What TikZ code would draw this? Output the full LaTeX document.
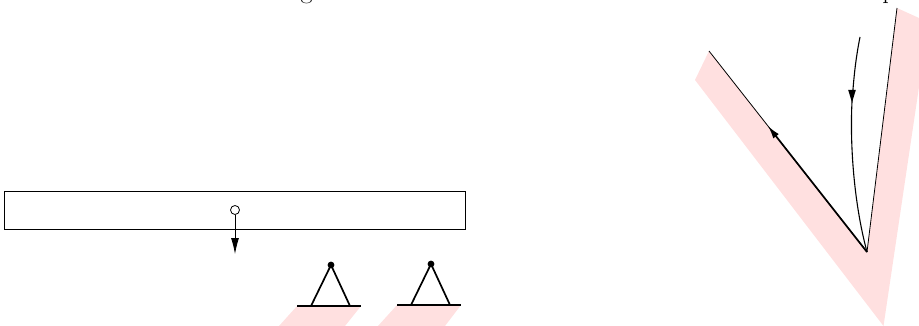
\documentclass[tikz,border=0pt]{standalone}
\usetikzlibrary{arrows.meta}
\definecolor{pk}{RGB}{255,224,224}
\tikzset{
  fillzone/.style={fill=pk,draw=none},
  thinline/.style={line width=0.8pt,black},
  midline/.style={line width=1.1pt,black},
  thickline/.style={line width=1.7pt,black},
  tip/.style={-{Latex[length=16pt,width=8pt]}},
  smalltip/.style={-{Latex[length=13pt,width=7pt]}},
  cuttext/.style={inner sep=0pt,anchor=base,font=\fontsize{26}{28}\selectfont},
}
\begin{document}
\begin{tikzpicture}[x=1pt,y=-1pt]
\useasboundingbox (0,0) rectangle (919,326);
\clip (0,0) rectangle (919,326);
\node[cuttext] (gtext) at (306.5,-1.5) {g};
\node[cuttext] (ptext) at (889,-1.5) {p};
% pink zones
\fill[fillzone] (709,51) -- (695,80) -- (883.5,326) -- (919,87) -- (919,18) -- (897,8) -- (867,252) -- cycle;
\fill[fillzone] (297,306) -- (361,306) -- (345,326) -- (279,326) -- cycle;
\fill[fillzone] (397,305) -- (461,305) -- (445,326) -- (378,326) -- cycle;
% rail
\node[draw,thinline,minimum width=461pt,minimum height=38pt,inner sep=0pt,outer sep=0pt,anchor=center] (rail) at (234.5,210) {};
\node[circle,draw,thinline,fill=white,minimum size=9pt,inner sep=0pt] (pivot) at (235,210) {};
\coordinate (pivotend) at (235,254);
\draw[thinline,tip] (pivot) -- (pivotend);
% supports
\coordinate (a1) at (331,265); \coordinate (b1) at (311,306); \coordinate (c1) at (350,306);
\coordinate (l1) at (297,306); \coordinate (r1) at (361,306);
\draw[thickline,line join=round] (b1) -- (a1) -- (c1) -- cycle;
\draw[thickline] (l1) -- (r1);
\fill (a1) circle (3.4pt);
\coordinate (a2) at (431,264); \coordinate (b2) at (411,305); \coordinate (c2) at (450,305);
\coordinate (l2) at (397,305); \coordinate (r2) at (461,305);
\draw[thickline,line join=round] (b2) -- (a2) -- (c2) -- cycle;
\draw[thickline] (l2) -- (r2);
\fill (a2) circle (3.4pt);
% angle
\coordinate (v) at (867,252); \coordinate (e1) at (709,51); \coordinate (e2) at (897,8);
\coordinate (m) at (768,126); \coordinate (s) at (860,37); \coordinate (h) at (852,102);
\draw[thinline] (v) -- (e1);
\draw[thinline] (v) -- (e2);
\draw[thickline,smalltip] (v) -- (m);
\draw[midline] (s) .. controls (855,62) and (853.5,82) .. (h) .. controls (850,140) and (853,200) .. (v);
\fill (852,102.5) -- (848.2,90) -- (855.8,90) -- cycle;
\end{tikzpicture}
\end{document}
